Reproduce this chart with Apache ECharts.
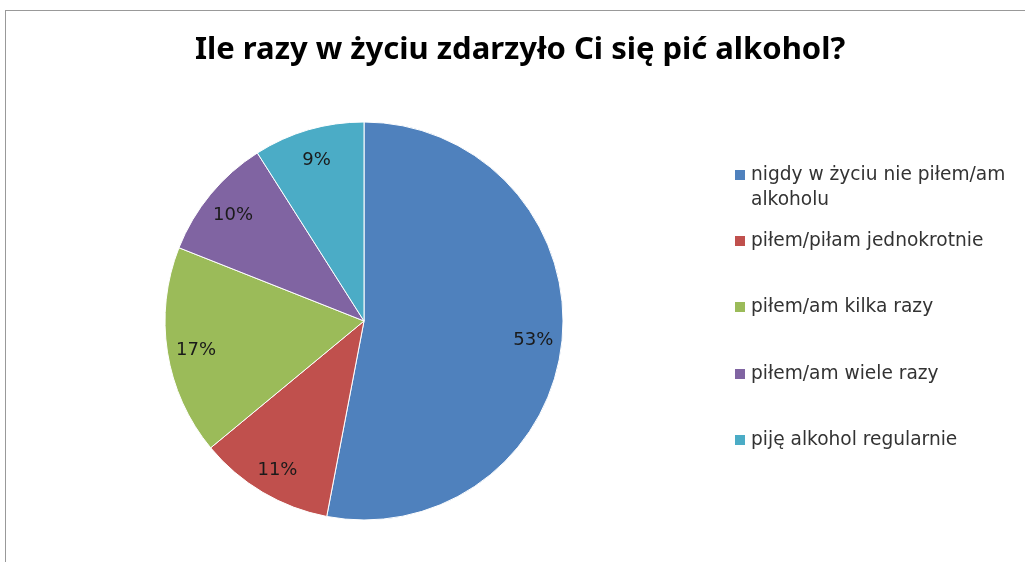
<!DOCTYPE html>
<html><head><meta charset="utf-8">
<script src="https://cdn.jsdelivr.net/npm/echarts@6/dist/echarts.min.js"></script>
<style>html,body{margin:0;padding:0;background:#fff}#c{width:1025px;height:562px}</style>
</head><body><div id="c"></div>
<script>
const titleText = 'Ile razy w życiu zdarzyło Ci się pić alkohol?';
const categories = ['nigdy w życiu nie piłem/am alkoholu', 'piłem/piłam jednokrotnie', 'piłem/am kilka razy', 'piłem/am wiele razy', 'piję alkohol regularnie'];
const values = [53, 11, 17, 10, 9];
const colors = ['#4F81BD', '#C0504D', '#9BBB59', '#8064A2', '#4BACC6'];

const chart = echarts.init(document.getElementById('c'), null, {renderer: 'canvas'});
const data = categories.map((n, i) => ({name: n, value: values[i], itemStyle: {color: colors[i]}}));
const legendCenters = [175, 241, 307, 374, 440];
const legends = categories.map((n, i) => {
  const first = i === 0;
  return {
    orient: 'vertical', left: 733, top: first ? legendCenters[i] - 37.5 : legendCenters[i] - 12.5,
    padding: 0, itemWidth: 12, itemHeight: 12, icon: 'rect', selectedMode: false,
    data: [n],
    formatter: first ? ' \nnigdy w życiu nie piłem/am\nalkoholu' : '{name}',
    textStyle: {fontFamily: 'DejaVu Sans', fontSize: 18.6, color: '#333', lineHeight: 25}
  };
});
chart.setOption({
  backgroundColor: '#fff',
  animation: false,
  title: {text: titleText, left: 195, top: 35, padding: 0,
    textStyle: {fontFamily: 'Noto Sans', fontWeight: 'bold', fontSize: 31, color: '#000'}},
  legend: legends,
  graphic: [
    {type: 'line', shape: {x1: 5, y1: 10.5, x2: 1025, y2: 10.5}, style: {stroke: '#999', lineWidth: 1}},
    {type: 'line', shape: {x1: 5.5, y1: 10, x2: 5.5, y2: 562}, style: {stroke: '#999', lineWidth: 1}}
  ],
  series: [{
    type: 'pie', center: [364, 321], radius: [0, 199], startAngle: 90, clockwise: true,
    data: data, label: {show: false}, labelLine: {show: false},
    itemStyle: {borderColor: '#fff', borderWidth: 1}, emphasis: {disabled: true}
  }, {
    type: 'pie', center: [364, 324], radius: [134, 200], startAngle: 90, clockwise: true,
    silent: true, data: data.map(d => ({name: d.name, value: d.value})),
    itemStyle: {color: 'rgba(0,0,0,0)'},
    label: {show: true, position: 'inside', formatter: '{c}%', fontFamily: 'DejaVu Sans', fontSize: 18, color: '#1a1a1a'},
    labelLine: {show: false}, emphasis: {disabled: true}
  }]
});
</script></body></html>
